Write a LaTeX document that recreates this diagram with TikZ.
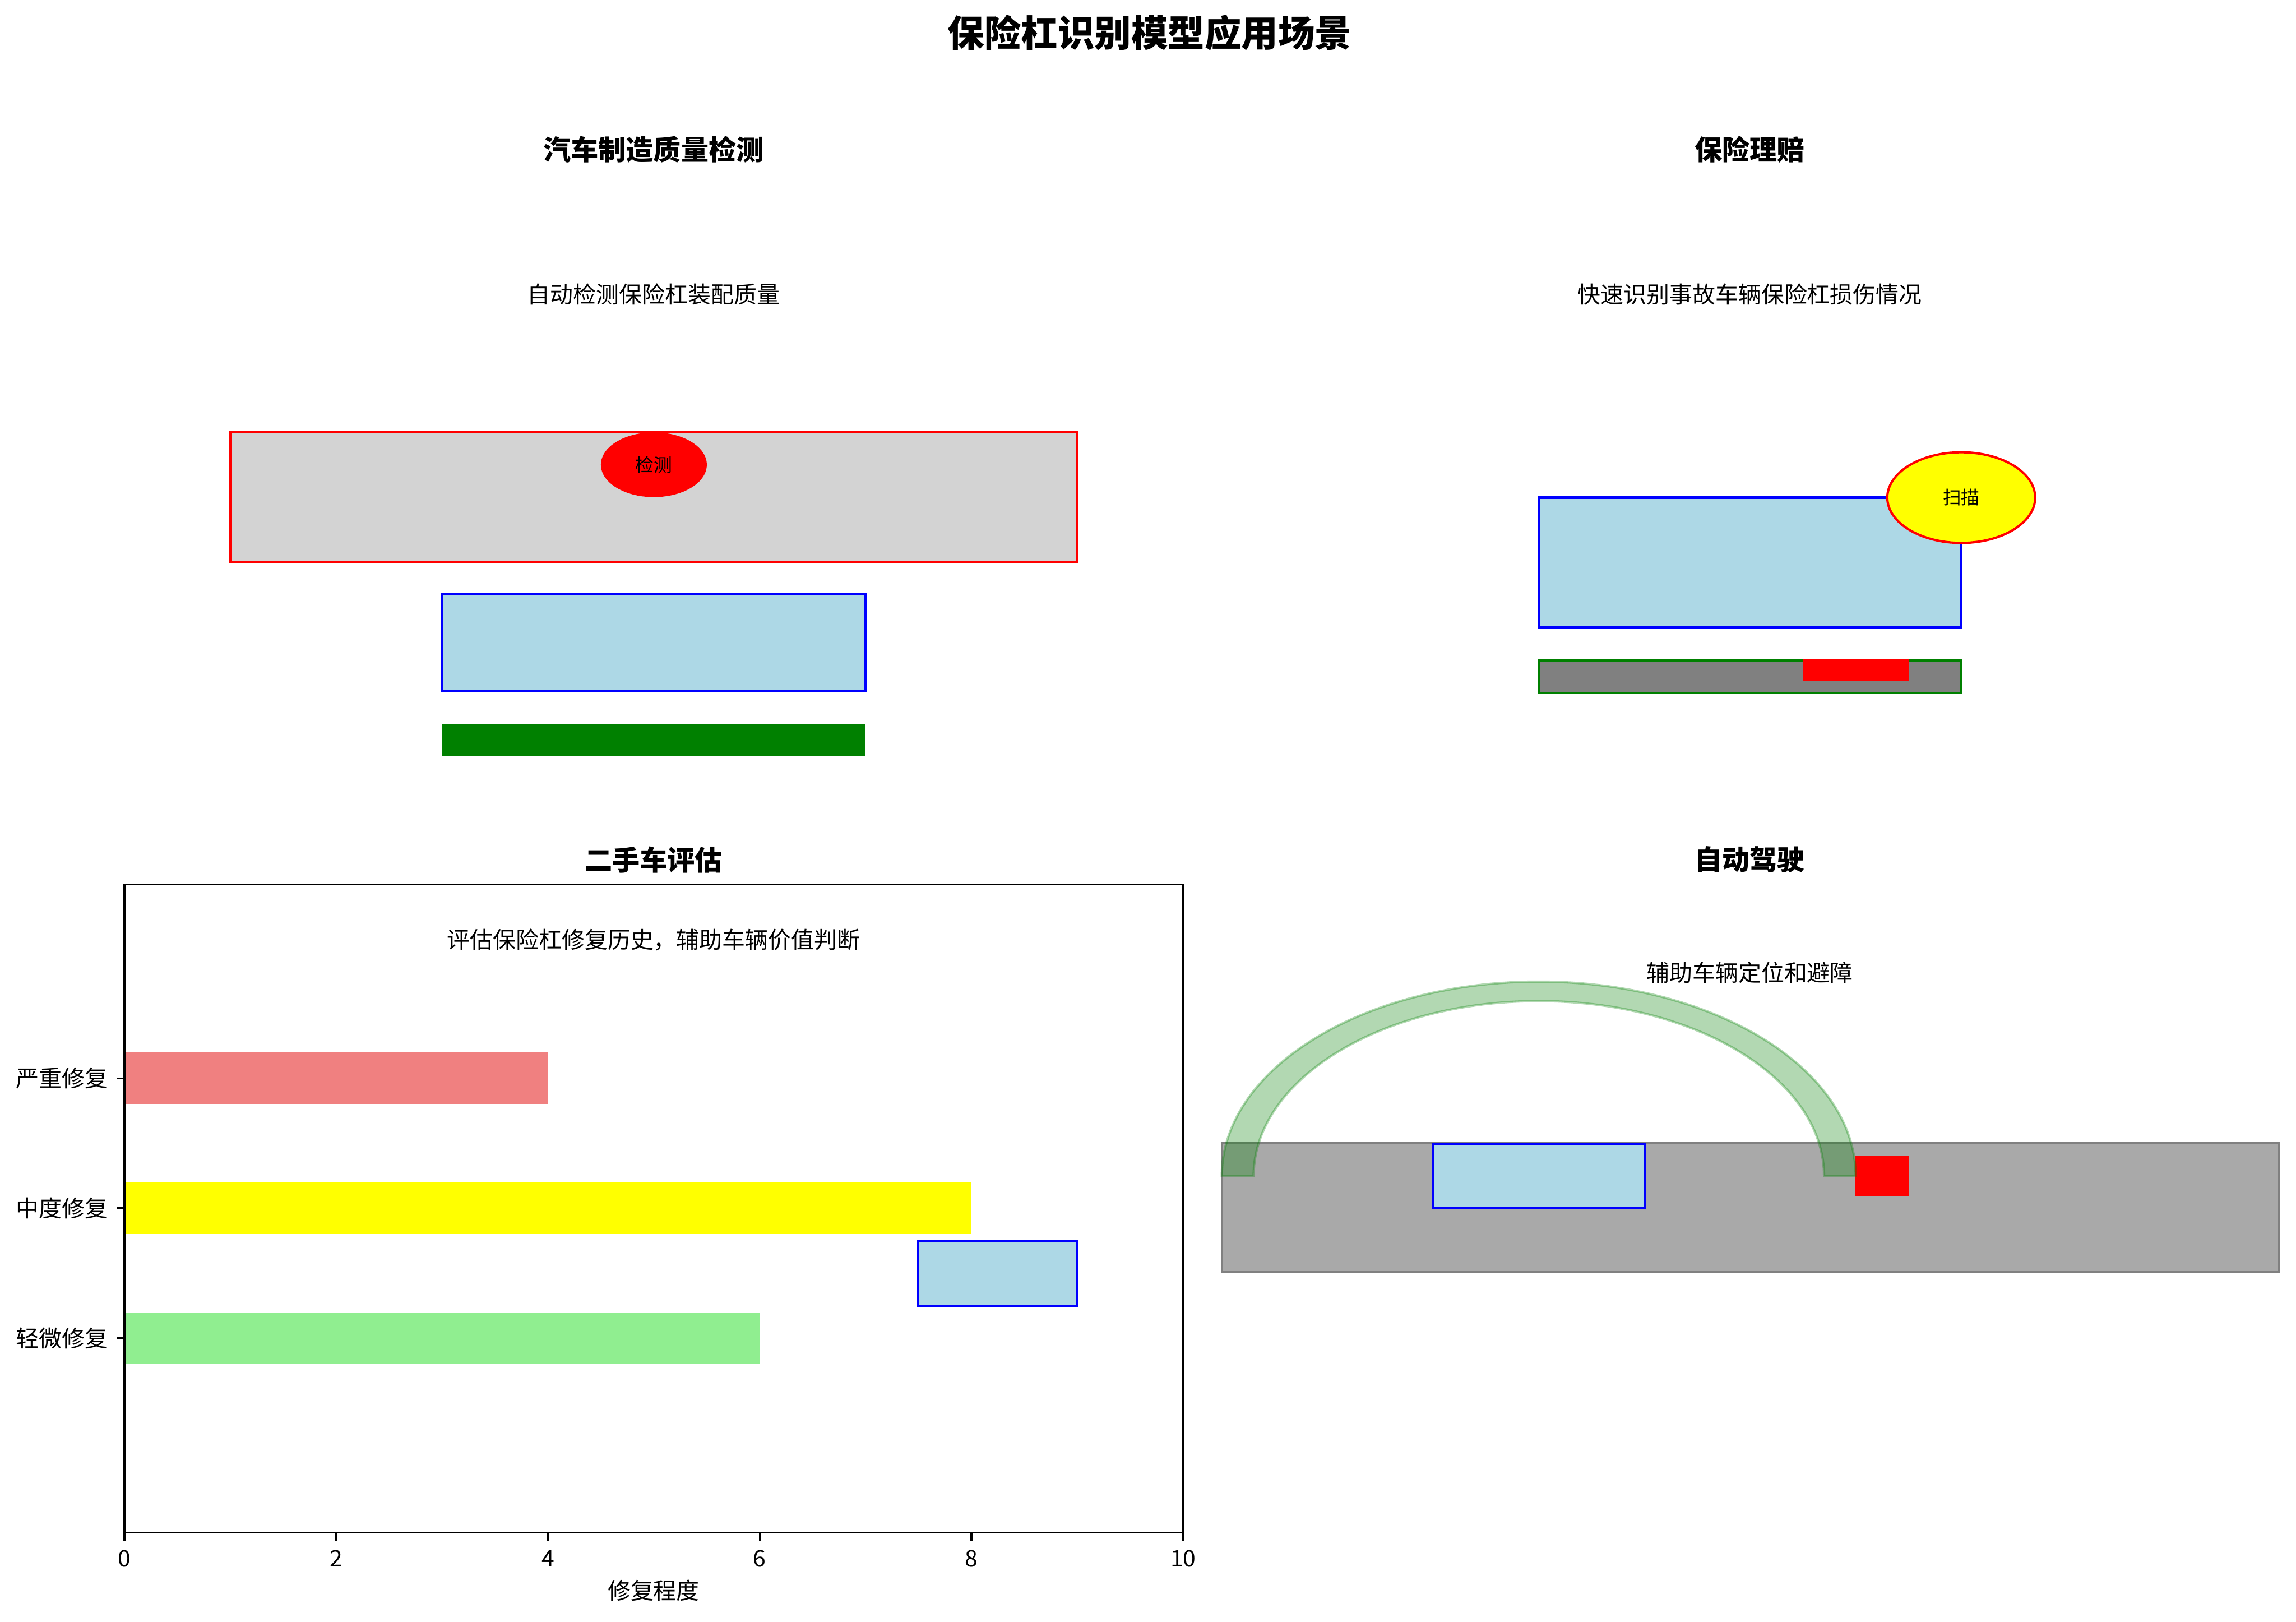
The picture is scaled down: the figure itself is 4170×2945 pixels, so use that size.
\documentclass[tikz,border=0pt]{standalone}
\usepackage{fontspec}
\setmainfont{Noto Sans CJK SC}
\definecolor{mplgreen}{RGB}{0,128,0}
\definecolor{mplgray}{RGB}{128,128,128}
\definecolor{mpldarkgray}{RGB}{169,169,169}
\definecolor{mpllightgray}{RGB}{211,211,211}
\definecolor{mpllightblue}{RGB}{173,216,230}
\definecolor{mplcoral}{RGB}{240,128,128}
\definecolor{mpllightgreen}{RGB}{144,238,144}
\definecolor{mplyellow}{RGB}{255,255,0}
\definecolor{mplred}{RGB}{255,0,0}
\definecolor{mplblue}{RGB}{0,0,255}

\begin{document}
\begin{tikzpicture}[x=0.24pt, y=-0.24pt, every node/.style={inner sep=0pt},
    txt/.style={font=\fontsize{10}{12}\selectfont},
    small/.style={font=\fontsize{8}{10}\selectfont},
    subtitle/.style={font=\fontsize{12}{14}\selectfont\bfseries},
    bumper/.style={fill=mpllightblue, draw=mplblue, line width=1pt},
    spine/.style={line width=0.8pt}]

    \path[use as bounding box, fill=white] (0,0) rectangle (4170,2945);

    % --- titulo ---
    \node[font=\fontsize{16}{18}\selectfont\bfseries] (maintitle) at (2088,60) {保险杠识别模型应用场景};

    % --- 汽车制造质量检测 ---
    \node[subtitle] (t1) at (1187,271) {汽车制造质量检测};
    \node[txt] (s1) at (1187,534) {自动检测保险杠装配质量};
    \draw[fill=mpllightgray, draw=mplred, line width=1pt] (418,785) rectangle (1957,1020);
    \fill[mplred] (1187.5,843.8) ellipse [x radius=96.2, y radius=58.8];
    \node[small] (jc) at (1187.5,843.8) {检测};
    \draw[bumper] (803,1079) rectangle (1572,1255);
    \fill[mplgreen] (803,1314) rectangle (1572,1373);

    % --- 保险理赔 ---
    \node[subtitle] (t2) at (3178,271) {保险理赔};
    \node[txt] (s2) at (3178,534) {快速识别事故车辆保险杠损伤情况};
    \draw[bumper] (2795,903.5) rectangle (3562,1139);
    \draw[fill=mplgray, draw=mplgreen, line width=1pt] (2795,1199) rectangle (3562,1258);
    \fill[mplred] (3274,1197) rectangle (3467,1237);
    \draw[fill=mplyellow, draw=mplred, line width=1pt] (3562,903.5) ellipse [x radius=134.3, y radius=82.3];
    \node[small] (sm) at (3562,903.5) {扫描};

    % --- 二手车评估 ---
    \node[subtitle] (t3) at (1187,1561) {二手车评估};
    \fill[mplcoral] (226,1911) rectangle (995,2005);
    \fill[mplyellow] (226,2147) rectangle (1764,2241);
    \fill[mpllightgreen] (226,2383) rectangle (1380,2477);
    \draw[bumper] (1668,2253) rectangle (1957,2371);
    \node[txt] (s3) at (1187,1707) {评估保险杠修复历史，辅助车辆价值判断};
    \draw[spine] (226,1606) rectangle (2149,2783);

    % --- ejes ---
    \draw[spine] (226,1958) -- (211.4,1958);
    \draw[spine] (226,2194) -- (211.4,2194);
    \draw[spine] (226,2430) -- (211.4,2430);
    \node[txt, anchor=east] (y2) at (197,1958) {严重修复};
    \node[txt, anchor=east] (y1) at (197,2194) {中度修复};
    \node[txt, anchor=east] (y0) at (197,2430) {轻微修复};

    \draw[spine] (226,2783) -- (226,2797.6);
    \draw[spine] (610.6,2783) -- (610.6,2797.6);
    \draw[spine] (995.2,2783) -- (995.2,2797.6);
    \draw[spine] (1379.8,2783) -- (1379.8,2797.6);
    \draw[spine] (1764.4,2783) -- (1764.4,2797.6);
    \draw[spine] (2149,2783) -- (2149,2797.6);
    \node[txt, anchor=base] (x0) at (226,2845) {0};
    \node[txt, anchor=base] (x2) at (610.6,2845) {2};
    \node[txt, anchor=base] (x4) at (995.2,2845) {4};
    \node[txt, anchor=base] (x6) at (1379.8,2845) {6};
    \node[txt, anchor=base] (x8) at (1764.4,2845) {8};
    \node[txt, anchor=base] (x10) at (2149,2845) {10};
    \node[txt] (xl) at (1187,2888) {修复程度};

    % --- 自动驾驶 ---
    \node[subtitle] (t4) at (3178,1561) {自动驾驶};
    \node[txt] (s4) at (3178,1766) {辅助车辆定位和避障};
    \draw[fill=mpldarkgray, draw=mplgray, line width=1pt] (2219,2075) rectangle (4138,2310);
    \draw[bumper] (2603,2077) rectangle (2987,2194);
    \fill[mplred] (3370,2099) rectangle (3467,2172);
    \draw[fill=mplgreen, draw=mplgreen, opacity=0.3, line width=1pt]
        (2219,2135.5) arc [start angle=180, end angle=360, x radius=575.6, y radius=353.1]
        -- (3312.8,2135.5) arc [start angle=360, end angle=180, x radius=518, y radius=317.8]
        -- cycle;

\end{tikzpicture}
\end{document}
